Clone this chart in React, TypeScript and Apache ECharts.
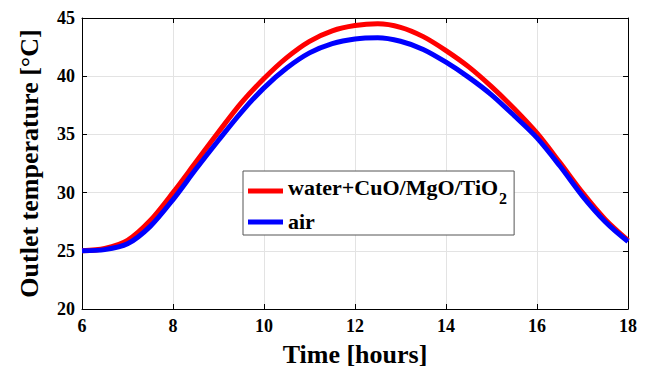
import React, { useEffect, useRef } from "react";
import * as echarts from "echarts";

const hours = [6, 6.5, 7, 7.5, 8, 8.5, 9, 9.5, 10, 10.5, 11, 11.5, 12, 12.5, 13, 13.5, 14, 14.5, 15, 15.5, 16, 16.5, 17, 17.5, 18];
const waterNano = [25.0, 25.2, 25.9, 27.6, 30.0, 32.6, 35.2, 37.7, 39.8, 41.6, 43.0, 43.9, 44.35, 44.5, 44.2, 43.4, 42.2, 40.8, 39.1, 37.2, 35.1, 32.6, 30.0, 27.7, 25.9];
const air = [25.0, 25.1, 25.6, 27.1, 29.4, 32.0, 34.5, 36.9, 39.0, 40.7, 42.0, 42.8, 43.2, 43.3, 43.0, 42.3, 41.2, 39.9, 38.4, 36.6, 34.7, 32.3, 29.7, 27.5, 25.8];
const seriesNames = ["water+CuO/MgO/TiO2", "air"];
const xTitle = "Time [hours]";
const yTitle = "Outlet temperature [°C]";

const FONT = "Times New Roman, Liberation Serif, DejaVu Serif, serif";

export default function App() {
  const ref = useRef<HTMLDivElement>(null);
  useEffect(() => {
    document.body.style.margin = "0";
    if (!ref.current) return;
    const chart = echarts.init(ref.current, null, { renderer: "svg" });
    const toPairs = (ys: number[]) => hours.map((h, i) => [h, ys[i]]);
    const axisCommon = {
      axisLine: { show: true, lineStyle: { color: "#000", width: 1 } },
      axisTick: { show: true, inside: true, length: 5, lineStyle: { color: "#000" } },
    };
    chart.setOption({
      animation: false,
      backgroundColor: "#fff",
      textStyle: { fontFamily: FONT },
      grid: { left: 82, top: 18, right: 19, bottom: 64, containLabel: false },
      legend: {
        show: true,
        orient: "vertical",
        left: 243,
        top: 171,
        data: seriesNames,
        icon: "rect",
        itemWidth: 35,
        itemHeight: 5,
        itemGap: 4,
        padding: [5, 7, 3, 5],
        backgroundColor: "#fff",
        borderColor: "#555",
        borderWidth: 1,
        borderRadius: 0,
        formatter: (name: string) =>
          name.endsWith("TiO2")
            ? "{m|" + name.slice(0, -1) + "}{s|2}"
            : "{m|" + name + "}",
        textStyle: {
          fontFamily: FONT,
          fontWeight: "bold",
          fontSize: 22,
          color: "#000",
          rich: {
            m: { fontFamily: FONT, fontWeight: "bold", fontSize: 22, color: "#000", lineHeight: 24, verticalAlign: "top" },
            s: { fontFamily: FONT, fontWeight: "bold", fontSize: 16, color: "#000", lineHeight: 30, verticalAlign: "bottom", padding: [0, 0, 0, 1] },
          },
        },
      },
      xAxis: [
        {
          type: "value",
          min: 6,
          max: 18,
          interval: 2,
          position: "bottom",
          ...axisCommon,
          axisLabel: { fontFamily: FONT, fontWeight: "bold", fontSize: 18, color: "#000", margin: 8 },
          splitLine: { show: true, lineStyle: { color: "#e3e3e3", width: 1 } },
          name: xTitle,
          nameLocation: "middle",
          nameGap: 32,
          nameTextStyle: { fontFamily: FONT, fontWeight: "bold", fontSize: 26, color: "#000" },
        },
        {
          type: "value",
          min: 6,
          max: 18,
          interval: 2,
          position: "top",
          ...axisCommon,
          axisLabel: { show: false },
          splitLine: { show: false },
        },
      ],
      yAxis: [
        {
          type: "value",
          min: 20,
          max: 45,
          interval: 5,
          position: "left",
          ...axisCommon,
          axisLabel: { fontFamily: FONT, fontWeight: "bold", fontSize: 18, color: "#000", margin: 7 },
          splitLine: { show: true, lineStyle: { color: "#e3e3e3", width: 1 } },
          name: yTitle,
          nameLocation: "middle",
          nameGap: 40,
          nameTextStyle: { fontFamily: FONT, fontWeight: "bold", fontSize: 26, color: "#000" },
        },
        {
          type: "value",
          min: 20,
          max: 45,
          interval: 5,
          position: "right",
          ...axisCommon,
          axisLabel: { show: false },
          splitLine: { show: false },
        },
      ],
      series: [
        {
          name: seriesNames[0],
          type: "line",
          data: toPairs(waterNano),
          smooth: 0.3,
          showSymbol: false,
          lineStyle: { color: "#ff0000", width: 5 },
          itemStyle: { color: "#ff0000" },
        },
        {
          name: seriesNames[1],
          type: "line",
          data: toPairs(air),
          smooth: 0.3,
          showSymbol: false,
          lineStyle: { color: "#0000ff", width: 5 },
          itemStyle: { color: "#0000ff" },
        },
      ],
    });
    return () => chart.dispose();
  }, []);
  return <div ref={ref} style={{ width: 647, height: 373 }} />;
}
